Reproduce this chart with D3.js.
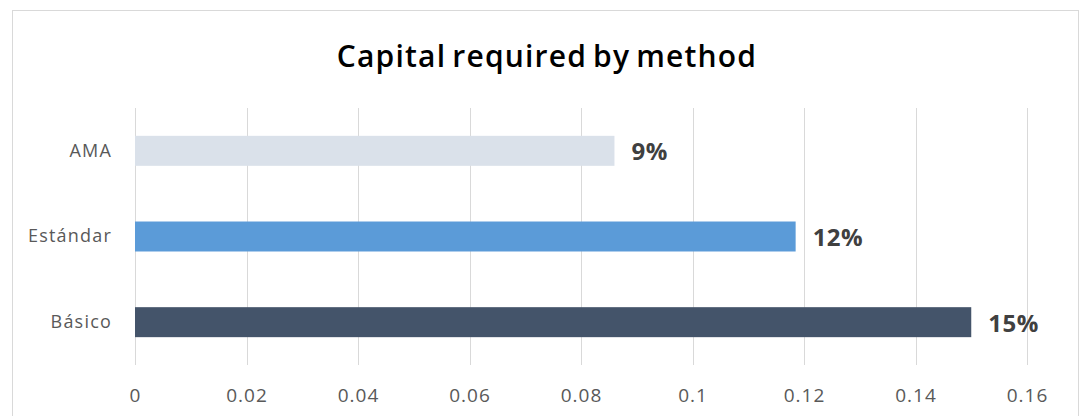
<!DOCTYPE html>
<html><head><meta charset="utf-8">
<script src="https://cdn.jsdelivr.net/npm/d3@7"></script>
<style>body{margin:0;background:#fff;}svg{display:block;}</style>
</head><body>
<svg id="c" width="1083" height="416"></svg>
<script>
const categories = ["AMA", "Estándar", "Básico"];
const values = [0.086, 0.1185, 0.15];
const labels = ["9%", "12%", "15%"];
const colors = ["#dae1ea", "#5b9bd8", "#44546a"];
const ticks = [0, 0.02, 0.04, 0.06, 0.08, 0.1, 0.12, 0.14, 0.16];
const title = "Capital required by method";

const svg = d3.select("#c");
const W = 1083, H = 416;
const m = {left: 135, right: 56, top: 108, bottom: 51};
const FONT = "Open Sans, sans-serif";

svg.append("rect").attr("x", 12.5).attr("y", 10.5).attr("width", 1066).attr("height", 410)
  .attr("fill", "#fff").attr("stroke", "#d9d9d9");

const x = d3.scaleLinear().domain([0, 0.16]).range([m.left, W - m.right]);
const y = d3.scaleBand().domain(categories).range([m.top, H - m.bottom]).paddingInner(0.65).paddingOuter(0.325);

svg.append("g").selectAll("line").data(ticks).join("line")
  .attr("x1", d => Math.round(x(d)) + 0.5).attr("x2", d => Math.round(x(d)) + 0.5)
  .attr("y1", m.top).attr("y2", H - m.bottom)
  .attr("stroke", "#d9d9d9").attr("stroke-width", 1);

const xAxis = d3.axisBottom(x).tickValues(ticks).tickSize(0).tickPadding(0).tickFormat(d => String(d));
const gx = svg.append("g").attr("transform", `translate(0,${H - m.bottom + 23})`).call(xAxis);
gx.select(".domain").remove();
gx.selectAll("text").attr("fill", "#595959").attr("font-family", FONT).attr("font-size", 19)
  .attr("letter-spacing", 1);

const yAxis = d3.axisLeft(y).tickSize(0).tickPadding(23);
const gy = svg.append("g").attr("transform", `translate(${m.left},0)`).call(yAxis);
gy.select(".domain").remove();
gy.selectAll("text").attr("fill", "#595959").attr("font-family", FONT).attr("font-size", 18)
  .attr("letter-spacing", 1.2);

const data = categories.map((c, i) => ({c, v: values[i], l: labels[i], col: colors[i]}));
svg.append("g").selectAll("rect").data(data).join("rect")
  .attr("x", x(0)).attr("y", d => y(d.c)).attr("width", d => x(d.v) - x(0)).attr("height", y.bandwidth())
  .attr("fill", d => d.col);

svg.append("g").selectAll("text").data(data).join("text")
  .attr("x", d => x(d.v) + 17).attr("y", d => y(d.c) + y.bandwidth() / 2 + 1).attr("dy", "0.36em")
  .attr("fill", "#404040").attr("font-family", FONT).attr("font-weight", "bold").attr("font-size", 24)
  .attr("letter-spacing", 0.5)
  .text(d => d.l);

svg.append("text").attr("x", 547).attr("y", 67).attr("text-anchor", "middle")
  .attr("font-family", FONT).attr("font-weight", 600).attr("font-size", 30).attr("fill", "#000")
  .attr("letter-spacing", 1.2).attr("word-spacing", -3)
  .text(title);
</script>
</body></html>
